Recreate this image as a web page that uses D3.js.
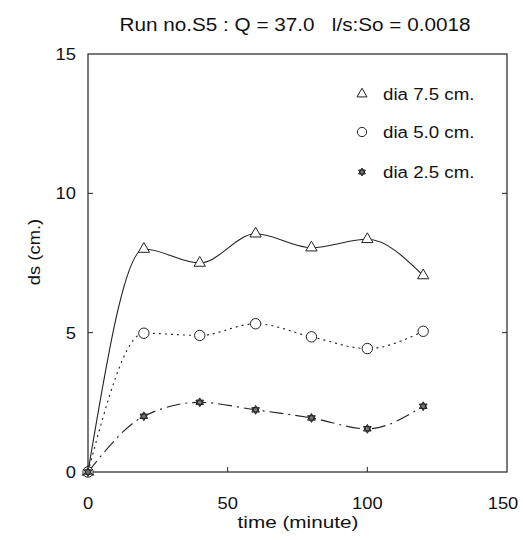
<!DOCTYPE html>
<html>
<head>
  <meta charset="utf-8">
  <title>Run no.S5</title>
  <script src="https://cdn.jsdelivr.net/npm/d3@7"></script>
  <style>
    body { margin: 0; background: #fff; }
    text { font-family: "Liberation Sans", Arial, sans-serif; fill: #111; }
  </style>
</head>
<body>
<script>
// time in minutes
var times = [0, 20, 40, 60, 80, 100, 120];
// scour depth ds (cm.) for each pier diameter
var dia75 = [0, 8.0, 7.5, 8.55, 8.05, 8.35, 7.05];
var dia50 = [0, 4.98, 4.9, 5.32, 4.85, 4.43, 5.05];
var dia25 = [0, 2.0, 2.5, 2.23, 1.94, 1.55, 2.36];
var xTicks = [0, 50, 100, 150];
var yTicks = [0, 5, 10, 15];
var legendLabels = ["dia 7.5 cm.", "dia 5.0 cm.", "dia 2.5 cm."];

var width = 523, height = 540;
// plot box (window.top is reserved, so use other names)
var pLeft = 88, pRight = 507, pTop = 54, pBottom = 472;

var svg = d3.select("body").append("svg")
  .attr("width", width)
  .attr("height", height);

var x = d3.scaleLinear().domain([0, 150]).range([pLeft, pRight]);
var y = d3.scaleLinear().domain([0, 15]).range([pBottom, pTop]);

// the scanned lettering is a bit wider than Arial, so stretch it sideways
function label(px, py, str, size, sx, anchor) {
  return svg.append("text")
    .attr("transform", "translate(" + px + "," + py + ") scale(" + sx + ",1)")
    .attr("text-anchor", anchor || "start")
    .attr("font-size", size)
    .attr("xml:space", "preserve")
    .text(str);
}

// six pointed star, like the printed marker
var star6 = {
  draw: function(ctx, size) {
    var r = Math.sqrt(size) * 0.7;
    [0, Math.PI].forEach(function(off) {
      for (var k = 0; k < 3; k++) {
        var a = off - Math.PI / 2 + k * 2 * Math.PI / 3;
        if (k == 0) ctx.moveTo(r * Math.cos(a), r * Math.sin(a));
        else ctx.lineTo(r * Math.cos(a), r * Math.sin(a));
      }
      ctx.closePath();
    });
  }
};

// frame
svg.append("rect")
  .attr("x", pLeft).attr("y", pTop)
  .attr("width", pRight - pLeft).attr("height", pBottom - pTop)
  .attr("fill", "none").attr("stroke", "#222").attr("stroke-width", 1.2);

// inward ticks
svg.append("g").selectAll("line")
  .data(xTicks.slice(1, 3)).enter().append("line")
  .attr("x1", function(d) { return x(d); }).attr("x2", function(d) { return x(d); })
  .attr("y1", pBottom).attr("y2", pBottom - 5)
  .attr("stroke", "#222");
svg.append("g").selectAll("line")
  .data(yTicks.slice(1, 3)).enter().append("line")
  .attr("x1", pLeft).attr("x2", pLeft + 5)
  .attr("y1", function(d) { return y(d); }).attr("y2", function(d) { return y(d); })
  .attr("stroke", "#222");
svg.append("g").selectAll("line")
  .data(yTicks.slice(1, 3)).enter().append("line")
  .attr("x1", pRight).attr("x2", pRight - 5)
  .attr("y1", function(d) { return y(d); }).attr("y2", function(d) { return y(d); })
  .attr("stroke", "#222");

// tick labels
xTicks.forEach(function(d) {
  label(x(d) - (d == 150 ? 4 : 0), pBottom + 37, d, 17, 1.08, "middle");
});
yTicks.forEach(function(d) {
  label(pLeft - 12, y(d) + 6, d, 17, 1.08, "end");
});

// axis titles
label(298, 528, "time (minute)", 17, 1.22, "middle");
svg.append("text")
  .attr("transform", "translate(40," + 252 + ") rotate(-90) scale(1.08,1)")
  .attr("text-anchor", "middle").attr("font-size", 17)
  .text("ds (cm.)");
label(295, 31, "Run no.S5 : Q = 37.0   l/s:So = 0.0018", 18.5, 1.12, "middle");

// curves
var line = d3.line()
  .x(function(d, i) { return x(times[i]); })
  .y(function(d) { return y(d); })
  .curve(d3.curveMonotoneX);

var series = [
  { values: dia75, dash: null, symbol: d3.symbolTriangle, size: 55, fill: "#fff" },
  { values: dia50, dash: "2,4", symbol: d3.symbolCircle, size: 85, fill: "#fff" },
  { values: dia25, dash: "14,5,2,5", symbol: star6, size: 40, fill: "#777" }
];

series.forEach(function(s) {
  svg.append("path")
    .attr("d", line(s.values))
    .attr("fill", "none")
    .attr("stroke", "#222")
    .attr("stroke-width", 1.1)
    .attr("stroke-dasharray", s.dash);
});

series.forEach(function(s) {
  svg.append("g").selectAll("path")
    .data(s.values).enter().append("path")
    .attr("d", d3.symbol().type(s.symbol).size(s.size))
    .attr("transform", function(d, i) { return "translate(" + x(times[i]) + "," + y(d) + ")"; })
    .attr("fill", s.fill)
    .attr("stroke", "#222")
    .attr("stroke-width", 1);
});

// legend
var legY = [94, 132, 172];
series.forEach(function(s, i) {
  svg.append("path")
    .attr("d", d3.symbol().type(s.symbol).size(s.size * 0.8))
    .attr("transform", "translate(362," + legY[i] + ")")
    .attr("fill", s.fill).attr("stroke", "#222");
  label(383, legY[i] + 6, legendLabels[i], 17, 1.1);
});
</script>
</body>
</html>
